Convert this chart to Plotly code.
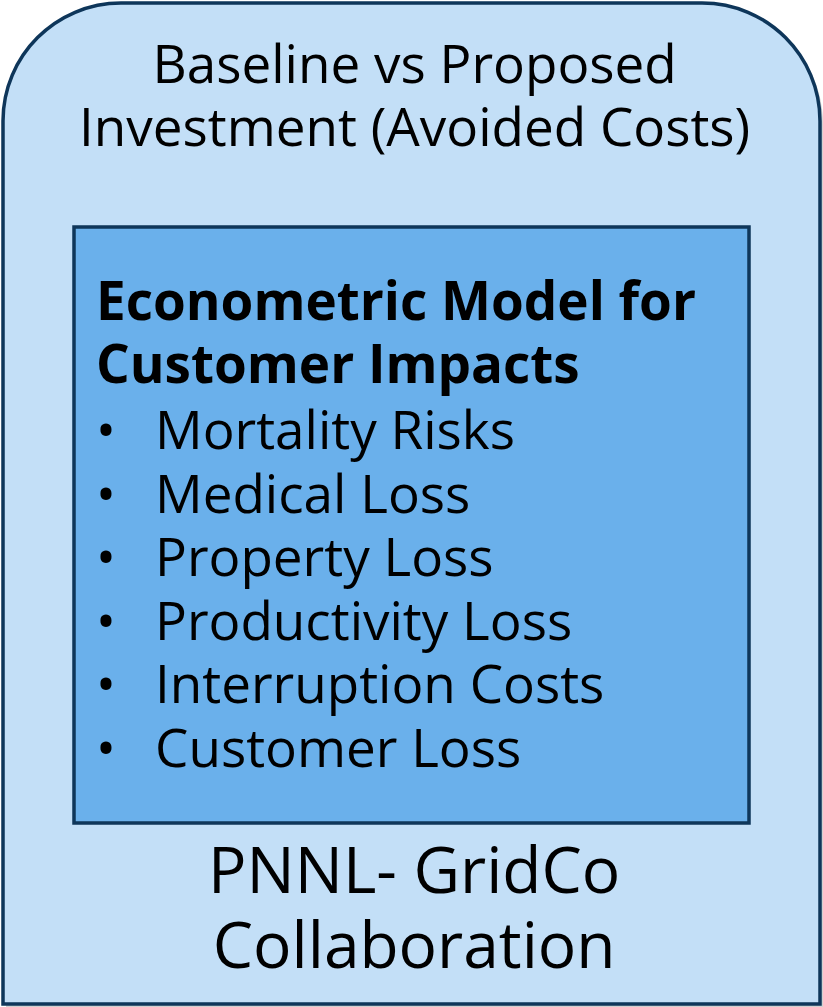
import plotly.graph_objects as go

W, H = 823, 1007
title_lines = ["Baseline vs Proposed", "Investment (Avoided Costs)"]
heading_lines = ["Econometric Model for", "Customer Impacts"]
items = ["Mortality Risks", "Medical Loss", "Property Loss", "Productivity Loss",
         "Interruption Costs", "Customer Loss"]
footer_lines = ["PNNL- GridCo", "Collaboration"]

OUTER_FILL = "#c3dff7"
INNER_FILL = "#6ab0eb"
EDGE = "#0e365a"
FONT = "Open Sans"


def block(lines, size, bold=False):
    out = []
    for ln in lines:
        s = f"<b>{ln}</b>" if bold else ln
        out.append(f"<span style='font-size:{size}px'>{s}</span>")
    return "<br>".join(out)


fig = go.Figure()
fig.add_trace(go.Scatter(x=[0, W], y=[0, H], mode="markers", marker=dict(opacity=0),
                         hoverinfo="skip", showlegend=False))

# outer rounded-top box
L, R, T, B, r = 3, 820, 3, 1004, 118
k = 0.5523 * r
path = (f"M {L},{B} L {L},{T+r} C {L},{T+r-k} {L+r-k},{T} {L+r},{T} "
        f"L {R-r},{T} C {R-r+k},{T} {R},{T+r-k} {R},{T+r} L {R},{B} Z")
shadow = (f"M {L+3},{B+3} L {L+3},{T+r+3} C {L+3},{T+r-k+3} {L+r-k+3},{T+3} {L+r+3},{T+3} "
          f"L {R-r+3},{T+3} C {R-r+k+3},{T+3} {R+3},{T+r-k+3} {R+3},{T+r+3} L {R+3},{B+3} Z")
fig.add_shape(type="path", path=shadow, fillcolor="rgba(0,0,0,0.18)", line=dict(width=0), layer="below")
fig.add_shape(type="path", path=path, fillcolor=OUTER_FILL, line=dict(color=EDGE, width=3.5), layer="below")

# inner box
fig.add_shape(type="rect", x0=74, x1=749, y0=227, y1=823, fillcolor=INNER_FILL,
              line=dict(color=EDGE, width=3.5), layer="below")

# title (line spacing = 1.3 * base font size)
fig.add_annotation(x=414, y=93.5, text=block(title_lines, 53), showarrow=False,
                   xanchor="center", yanchor="middle", align="center",
                   font=dict(family=FONT, size=63 / 1.3, color="black"))

# heading
fig.add_annotation(x=94, y=330.5, text=block(heading_lines, 53, bold=True), showarrow=False,
                   xanchor="left", yanchor="middle", align="left",
                   font=dict(family=FONT, size=63 / 1.3, color="black"))

# bullets and items
fig.add_annotation(x=94, y=587, text=block(["•"] * len(items), 53), showarrow=False,
                   xanchor="left", yanchor="middle", align="left",
                   font=dict(family=FONT, size=63.6 / 1.3, color="black"))
fig.add_annotation(x=153, y=587, text=block(items, 53), showarrow=False,
                   xanchor="left", yanchor="middle", align="left",
                   font=dict(family=FONT, size=63.6 / 1.3, color="black"))

# footer
fig.add_annotation(x=414, y=905.5, text=block(footer_lines, 64), showarrow=False,
                   xanchor="center", yanchor="middle", align="center",
                   font=dict(family=FONT, size=75 / 1.3, color="black"))

fig.update_xaxes(range=[0, W], visible=False, fixedrange=True)
fig.update_yaxes(range=[H, 0], visible=False, fixedrange=True)
fig.update_layout(width=W, height=H, margin=dict(l=0, r=0, t=0, b=0),
                  paper_bgcolor="white", plot_bgcolor="white", showlegend=False)
fig.write_html("out.html", config={"displayModeBar": False},
               post_script="document.body.style.margin='0';document.body.style.overflow='hidden';")
